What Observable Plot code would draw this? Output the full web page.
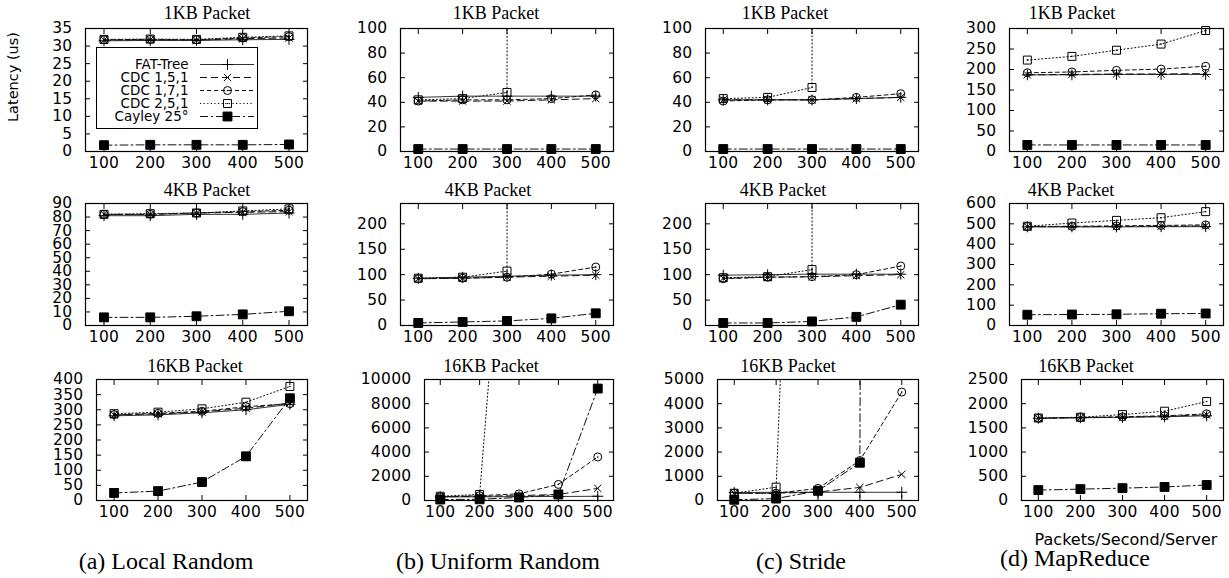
<!DOCTYPE html>
<html><head><meta charset="utf-8">
<script src="https://cdn.jsdelivr.net/npm/d3@7"></script>
<script src="https://cdn.jsdelivr.net/npm/@observablehq/plot@0.6"></script>
<style>
html,body{margin:0;padding:0;background:#fff;}
#root{position:relative;width:1229px;height:578px;overflow:hidden;background:#fff;}
.lbl{position:absolute;white-space:nowrap;transform:translate(-50%,-50%);color:#000;line-height:1;}
.title{font-family:"Liberation Serif",serif;font-size:18px;}
.cap{font-family:"Liberation Serif",serif;font-size:24px;}
.sans{font-family:"DejaVu Sans",sans-serif;}
</style></head><body><div id="root"></div>
<script>
// ---------------- data ----------------
const xValues = [100, 200, 300, 400, 500];
const seriesNames = ["FAT-Tree", "CDC 1,5,1", "CDC 1,7,1", "CDC 2,5,1", "Cayley 25°"];
const patternNames = ["(a) Local Random", "(b) Uniform Random", "(c) Stride", "(d) MapReduce"];
const packetNames = ["1KB Packet", "4KB Packet", "16KB Packet"];

// rows: FAT-Tree, CDC 1,5,1, CDC 1,7,1, CDC 2,5,1, Cayley 25°
const localRandom1KB = [[31.5,31.6,31.6,31.8,31.9],[31.7,31.8,31.7,32.1,32.3],[31.8,31.9,31.8,32.3,32.7],[31.9,32.0,31.9,32.5,32.9],[1.8,1.9,1.9,1.9,2.0]];
const uniformRandom1KB = [[44,45,45,45,45],[41,41,41,42,43],[41,42,42,43,46],[42,43,48,20000,40000],[2,2,2,2,2]];
const stride1KB = [[42,42,42,43,44],[42,42,42,43,44],[41,42,42,44,47],[43,44,52,20000,40000],[2,2,2,2,2]];
const mapReduce1KB = [[187,187,188,188,188],[187,188,189,189,190],[192,194,198,201,208],[223,232,247,262,295],[16,16,16,16,16]];

const localRandom4KB = [[81,81,82,82,83],[82,82,83,83.5,84],[82,82,83,84,85],[82,82.5,83,84.5,86],[6,6,6.8,8.2,10.5]];
const uniformRandom4KB = [[93,95,97,99,100],[92,93,95,97,99],[92,93,95,101,115],[93,95,107,50000,90000],[5,7,9,14,24]];
const stride4KB = [[99,100,101,101,101],[93,95,96,98,100],[92,95,96,100,117],[94,96,110,50000,90000],[5,5,8,17,41]];
const mapReduce4KB = [[485,485,485,486,486],[486,486,487,488,490],[487,488,490,492,495],[488,504,517,530,560],[53,54,55,58,59]];

const localRandom16KB = [[280,283,290,300,318],[283,286,293,305,322],[284,288,295,310,320],[287,292,303,325,377],[25,31,61,146,338]];
const uniformRandom16KB = [[300,300,320,330,350],[300,350,400,500,1000],[300,400,550,1330,3600],[350,500,41000,80000,120000],[80,100,250,500,9250]];
const stride16KB = [[330,340,340,340,340],[300,300,350,540,1080],[300,300,500,1650,4480],[300,550,45000,90000,130000],[30,80,400,1560,500000]];
const mapReduce16KB = [[1700,1710,1720,1730,1750],[1700,1710,1720,1740,1770],[1700,1715,1730,1750,1790],[1705,1720,1775,1845,2045],[215,235,255,280,320]];

// y-axis tick labels per panel
const yTicksLR1 = [0,5,10,15,20,25,30,35];
const yTicks100 = [0,20,40,60,80,100];
const yTicksMR1 = [0,50,100,150,200,250,300];
const yTicksLR4 = [0,10,20,30,40,50,60,70,80,90];
const yTicks200 = [0,50,100,150,200];
const yTicksMR4 = [0,100,200,300,400,500,600];
const yTicksLR16 = [0,50,100,150,200,250,300,350,400];
const yTicksUR16 = [0,2000,4000,6000,8000,10000];
const yTicksST16 = [0,1000,2000,3000,4000,5000];
const yTicksMR16 = [0,500,1000,1500,2000,2500];

// ---------------- layout & styles ----------------
const panels = [
  [ {data: localRandom1KB, yMax: 35, ticks: yTicksLR1, l: 85, r: 307},
    {data: uniformRandom1KB, yMax: 100, ticks: yTicks100, l: 400, r: 613},
    {data: stride1KB, yMax: 100, ticks: yTicks100, l: 705, r: 918},
    {data: mapReduce1KB, yMax: 300, ticks: yTicksMR1, l: 1009, r: 1223} ],
  [ {data: localRandom4KB, yMax: 90, ticks: yTicksLR4, l: 85, r: 307},
    {data: uniformRandom4KB, yMax: 240, ticks: yTicks200, l: 400, r: 613},
    {data: stride4KB, yMax: 240, ticks: yTicks200, l: 705, r: 918},
    {data: mapReduce4KB, yMax: 600, ticks: yTicksMR4, l: 1009, r: 1223} ],
  [ {data: localRandom16KB, yMax: 400, ticks: yTicksLR16, l: 96, r: 307},
    {data: uniformRandom16KB, yMax: 10000, ticks: yTicksUR16, l: 424, r: 613},
    {data: stride16KB, yMax: 5000, ticks: yTicksST16, l: 717, r: 918},
    {data: mapReduce16KB, yMax: 2500, ticks: yTicksMR16, l: 1021, r: 1223} ]
];
const rowTB = [[28, 151], [203, 325], [379, 500]];
const titlePos = [[[207, 13], [496, 13], [785, 13], [1072, 13]],
                  [[207, 190], [488, 190], [783, 190], [1071, 190]],
                  [[195, 366], [491, 366], [788, 366], [1086, 366]]];
const captionPos = [[166, 561], [498, 561], [801, 561], [1075, 558]];

const seriesStyles = [
  {stroke: "#333", dash: undefined, symbol: "plus", r: 3.6, fill: "none", center: false},
  {stroke: "#111", dash: "7,4", symbol: "times", r: 3.4, fill: "none", center: false},
  {stroke: "#111", dash: "4,3", symbol: "circle", r: 4, fill: "none", center: true},
  {stroke: "#111", dash: "1.2,2.4", symbol: "square", r: 4.5, fill: "none", center: true},
  {stroke: "#111", dash: "8,3,2,3", symbol: "square", r: 5, fill: "black", center: false}
];

const root = document.getElementById("root");
const M = {l: 70, r: 12, t: 12, b: 34};

function makePanel(p, tb) {
  const w = p.r - p.l, h = tb[1] - tb[0];
  const rows = p.data.flatMap((vals, si) => vals.map((v, i) => ({s: si, x: xValues[i], y: v})));
  const marks = [];
  seriesStyles.forEach((st, si) => {
    const d = rows.filter(r => r.s === si);
    marks.push(Plot.line(d, {x: "x", y: "y", stroke: st.stroke, strokeWidth: 1, strokeDasharray: st.dash, clip: true}));
  });
  seriesStyles.forEach((st, si) => {
    const d = rows.filter(r => r.s === si && r.y <= p.yMax * 1.01);
    marks.push(Plot.dot(d, {x: "x", y: "y", symbol: st.symbol, r: st.r, fill: st.fill, stroke: "black", strokeWidth: 1}));
    if (st.center) marks.push(Plot.dot(d, {x: "x", y: "y", r: 0.8, fill: "black", stroke: "none"}));
  });
  marks.push(
    Plot.axisY({anchor: "left", ticks: p.ticks, tickSize: 5, dx: 5, fill: "none", label: null}),
    Plot.axisY({anchor: "right", ticks: p.ticks, tickSize: 5, dx: -5, fill: "none", label: null}),
    Plot.axisX({anchor: "bottom", ticks: xValues, tickSize: 5, dy: -5, fill: "none", label: null}),
    Plot.axisX({anchor: "top", ticks: xValues, tickSize: 5, dy: 5, fill: "none", label: null}),
    Plot.axisY({anchor: "left", ticks: p.ticks, tickSize: 0, tickPadding: 13, label: null, tickFormat: d => String(d)}),
    Plot.axisX({anchor: "bottom", ticks: xValues, tickSize: 0, tickPadding: 5, label: null, tickFormat: d => String(d)}),
    Plot.frame({stroke: "black", strokeWidth: 1.2})
  );
  const svg = Plot.plot({
    width: w + M.l + M.r, height: h + M.t + M.b,
    marginLeft: M.l, marginRight: M.r, marginTop: M.t, marginBottom: M.b,
    x: {domain: [60, 540]},
    y: {domain: [0, p.yMax]},
    style: {fontFamily: "DejaVu Sans", fontSize: "15.5px", letterSpacing: "0.3px", background: "transparent", overflow: "visible", color: "black"},
    marks
  });
  svg.style.position = "absolute";
  svg.style.left = (p.l - M.l) + "px";
  svg.style.top = (tb[0] - M.t) + "px";
  svg.style.maxWidth = "none";
  root.appendChild(svg);
}

panels.forEach((row, ri) => row.forEach(p => makePanel(p, rowTB[ri])));

function addLabel(text, cls, x, y, extra) {
  const d = document.createElement("div");
  d.className = "lbl " + cls;
  d.textContent = text;
  d.style.left = x + "px";
  d.style.top = y + "px";
  if (extra) Object.assign(d.style, extra);
  root.appendChild(d);
}
packetNames.forEach((t, ri) => titlePos[ri].forEach(([x, y]) => addLabel(t, "title", x, y)));
patternNames.forEach((t, ci) => addLabel(t, "cap", captionPos[ci][0], captionPos[ci][1]));
addLabel("Latency (us)", "sans", 13, 77, {fontSize: "14.5px", transform: "translate(-50%,-50%) rotate(-90deg)"});
addLabel("Packets/Second/Server", "sans", 1126, 540, {fontSize: "16px"});

// ---------------- legend ----------------
const legMarks = [];
seriesStyles.forEach((st, si) => {
  legMarks.push(Plot.ruleY([seriesNames[si]], {y: d => d, stroke: st.stroke, strokeWidth: 1, strokeDasharray: st.dash}));
  legMarks.push(Plot.dot([seriesNames[si]], {y: d => d, frameAnchor: "middle", symbol: st.symbol, r: st.r, fill: st.fill, stroke: "black", strokeWidth: 1}));
  if (st.center) legMarks.push(Plot.dot([seriesNames[si]], {y: d => d, frameAnchor: "middle", r: 0.8, fill: "black"}));
});
legMarks.push(Plot.text(seriesNames, {y: d => d, text: d => d, frameAnchor: "left", textAnchor: "end", dx: -12, fill: "black"}));
const legend = Plot.plot({
  width: 160, height: 80,
  marginLeft: 103, marginRight: 3, marginTop: 0, marginBottom: 0,
  y: {type: "point", domain: seriesNames, range: [9, 75], axis: null},
  style: {fontFamily: "DejaVu Sans", fontSize: "13.5px", background: "white", overflow: "visible", color: "black"},
  marks: legMarks
});
legend.style.position = "absolute";
legend.style.left = "96px";
legend.style.top = "47px";
legend.style.border = "1.2px solid black";
legend.style.maxWidth = "none";
root.appendChild(legend);
</script></body></html>
